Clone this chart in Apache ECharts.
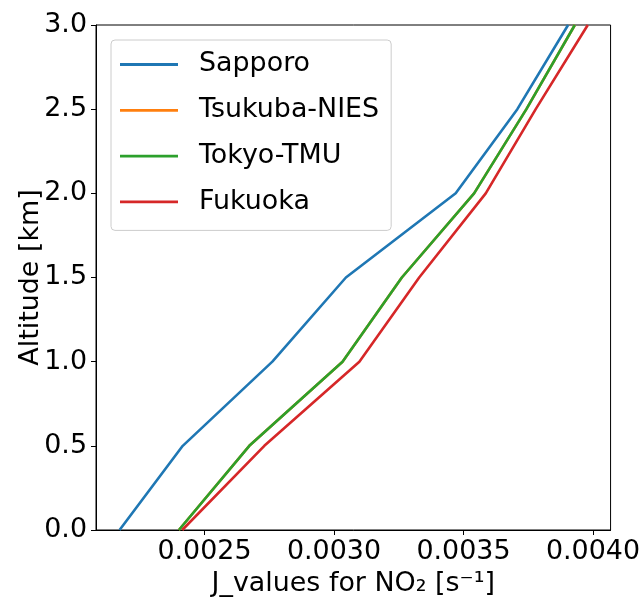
<!DOCTYPE html>
<html>
<head>
<meta charset="utf-8">
<script src="https://cdn.jsdelivr.net/npm/echarts@6/dist/echarts.min.js"></script>
<style>
  html, body { margin: 0; padding: 0; background: #fff; }
  #myChart { width: 643px; height: 603px; }
</style>
</head>
<body>
<div id="myChart"></div>
<script>
// altitude levels (km)
var altitude = [0, 0.5, 1.0, 1.5, 2.0, 2.5, 3.0]
// J values for NO2 at each level
var sapporo = [0.002172, 0.002416, 0.002762, 0.003046, 0.003470, 0.003708, 0.003904]
var tsukuba = [0.002401, 0.002673, 0.003033, 0.003262, 0.003541, 0.003743, 0.003930]
var tokyo = [0.002401, 0.002673, 0.003033, 0.003262, 0.003541, 0.003743, 0.003930]
var fukuoka = [0.002414, 0.002731, 0.003098, 0.003329, 0.003586, 0.003779, 0.003980]
var stationNames = ['Sapporo', 'Tsukuba-NIES', 'Tokyo-TMU', 'Fukuoka']
var colors = ['#1f77b4', '#ff7f0e', '#2ca02c', '#d62728']
var xTicks = [0.0025, 0.0030, 0.0035, 0.0040]

var font = 'DejaVu Sans'

function pairs (xs) {
  return xs.map(function (v, i) { return [v, altitude[i]] })
}

var allSeries = [sapporo, tsukuba, tokyo, fukuoka]

var myChart = echarts.init(document.getElementById('myChart'), null, { renderer: 'canvas' })
myChart.setOption({
  animation: false,
  color: colors,
  grid: {
    left: 96,
    right: 31,
    top: 25,
    bottom: 67,
    show: true,
    borderColor: '#000',
    borderWidth: 1
  },
  legend: {
    orient: 'vertical',
    left: 111,
    top: 40,
    data: stationNames,
    itemWidth: 58,
    itemHeight: 22,
    itemGap: 18.8,
    padding: [11, 12, 15, 9],
    backgroundColor: 'rgba(255,255,255,0.8)',
    borderColor: '#cccccc',
    borderWidth: 1,
    borderRadius: 4,
    icon: 'path://M0,0 L58,0 L58,2.8 L0,2.8 Z',
    textStyle: {
      fontFamily: font,
      fontSize: 26.9,
      color: '#000',
      padding: [0, 0, 0, 16]
    }
  },
  xAxis: {
    type: 'value',
    min: 0.002081,
    max: 0.004068,
    name: 'J_values for NO₂ [s⁻¹]',
    nameLocation: 'middle',
    nameGap: 41,
    nameMoveOverlap: false,
    nameTextStyle: { fontFamily: font, fontSize: 26.9, color: '#000' },
    axisLine: { show: true, onZero: false, lineStyle: { color: '#000', width: 1 } },
    axisTick: { show: true, length: 5, customValues: xTicks, lineStyle: { color: '#000' } },
    axisLabel: {
      customValues: xTicks,
      margin: 9,
      fontFamily: font,
      fontSize: 26.9,
      color: '#000',
      formatter: function (v) { return v.toFixed(4) }
    },
    splitLine: { show: false }
  },
  yAxis: {
    type: 'value',
    min: 0,
    max: 3,
    interval: 0.5,
    name: 'Altitude [km]',
    nameLocation: 'middle',
    nameGap: 51,
    nameMoveOverlap: false,
    nameTextStyle: { fontFamily: font, fontSize: 26.9, color: '#000' },
    axisLine: { show: true, lineStyle: { color: '#000', width: 1 } },
    axisTick: { show: true, length: 5, lineStyle: { color: '#000' } },
    axisLabel: {
      margin: 9,
      fontFamily: font,
      fontSize: 26.9,
      color: '#000',
      formatter: function (v) { return v.toFixed(1) }
    },
    splitLine: { show: false }
  },
  series: allSeries.map(function (xs, i) {
    return {
      name: stationNames[i],
      type: 'line',
      data: pairs(xs),
      showSymbol: false,
      symbol: 'none',
      lineStyle: { width: 2.6, color: colors[i] },
      itemStyle: { color: colors[i] }
    }
  })
})
</script>
</body>
</html>
